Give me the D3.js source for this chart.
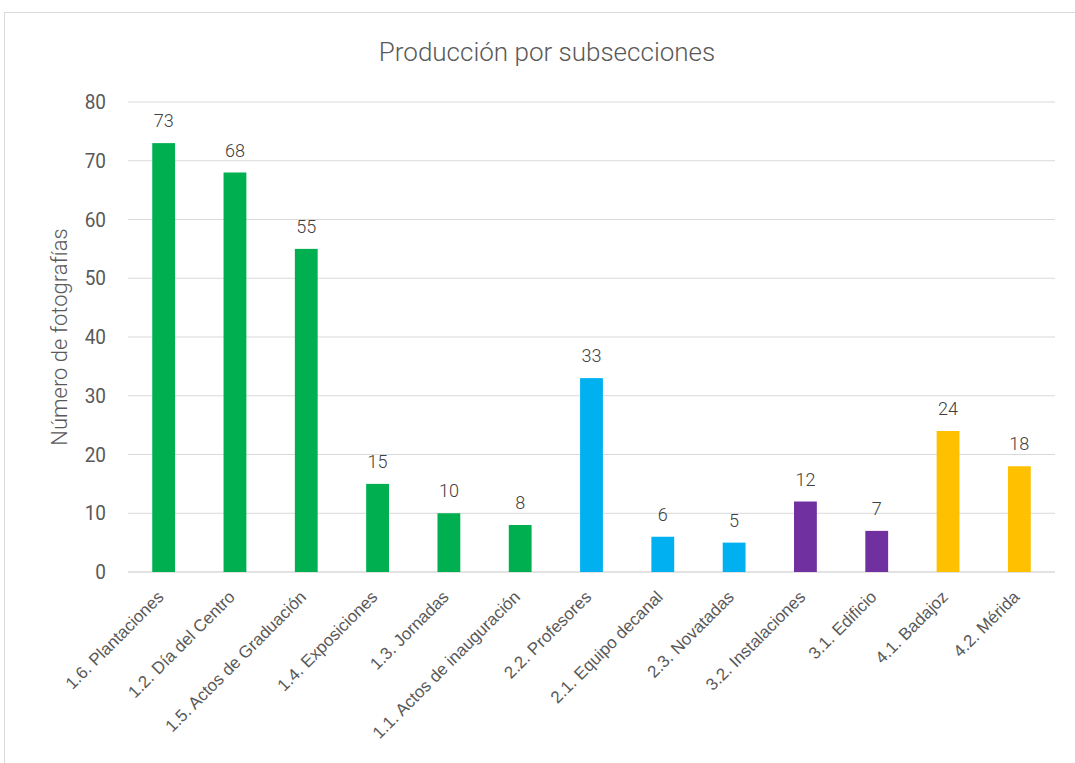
<!DOCTYPE html>
<html><head><meta charset="utf-8">
<script src="https://cdn.jsdelivr.net/npm/d3@7"></script>
<style>body{margin:0;background:#fff}svg{display:block}</style>
</head><body>
<script>
const categories = ["1.6. Plantaciones","1.2. Día del Centro","1.5. Actos de Graduación","1.4. Exposiciones","1.3. Jornadas","1.1. Actos de inauguración","2.2. Profesores","2.1. Equipo decanal","2.3. Novatadas","3.2. Instalaciones","3.1. Edificio","4.1. Badajoz","4.2. Mérida"];
const values = [73,68,55,15,10,8,33,6,5,12,7,24,18];
const groups = [1,1,1,1,1,1,2,2,2,3,3,4,4];
const groupColors = {1:"#00b050",2:"#00b0f0",3:"#7030a0",4:"#ffc000"};
const yTicks = [0,10,20,30,40,50,60,70,80];
const title = "Producción por subsecciones";
const yTitle = "Número de fotografías";

const W=1075,H=763;
const thin = "Roboto,sans-serif";
const svg=d3.select("body").append("svg").attr("width",W).attr("height",H);
svg.append("rect").attr("x",4.5).attr("y",12.5).attr("width",W+10).attr("height",H+10)
  .attr("fill","#fff").attr("stroke","#d9d9d9").attr("stroke-width",1);

const x=d3.scaleBand().domain(categories).range([128,1055]);
const y=d3.scaleLinear().domain([0,80]).range([572,102]);
const bw=x.step()*0.32;

svg.append("g").selectAll("line").data(yTicks).join("line")
  .attr("x1",128).attr("x2",1055).attr("y1",d=>y(d)).attr("y2",d=>y(d))
  .attr("stroke","#d9d9d9").attr("stroke-width",d=>d===0?1.5:1.2);

function ctext(g,tx,ty,rot,size,fill,anchor,txt,sx,wt){
  g.append("text").attr("transform",`translate(${tx},${ty}) rotate(${rot}) scale(${sx||1},1)`)
   .attr("text-anchor",anchor).attr("font-family",thin).attr("font-weight",wt||300)
   .attr("font-size",size).attr("fill",fill).text(txt);
}
const tg=svg.append("g");
yTicks.forEach(d=>ctext(tg,106,y(d)+7,0,20,"#595959","end",d,0.95,400));
ctext(tg,67,(y(0)+y(80))/2,-90,22,"#595959","middle",yTitle);
ctext(tg,547,61,0,26,"#595959","middle",title);

const cx=c=>x(c)+x.bandwidth()/2;
svg.append("g").selectAll("rect").data(categories).join("rect")
  .attr("x",c=>cx(c)-bw/2).attr("width",bw)
  .attr("y",(c,i)=>y(values[i])).attr("height",(c,i)=>y(0)-y(values[i]))
  .attr("fill",(c,i)=>groupColors[groups[i]]);

const lg=svg.append("g");
categories.forEach((c,i)=>ctext(lg,cx(c),y(values[i])-16,0,19,"#404040","middle",values[i],0.95));

svg.append("g").selectAll("text").data(categories).join("text")
  .attr("transform",c=>`translate(${cx(c)+1},${598}) rotate(-45)`)
  .attr("text-anchor","end").attr("font-family","'Liberation Sans',Arial,sans-serif")
  .attr("font-size",17).attr("fill","#595959").text(c=>c);
</script>
</body></html>
